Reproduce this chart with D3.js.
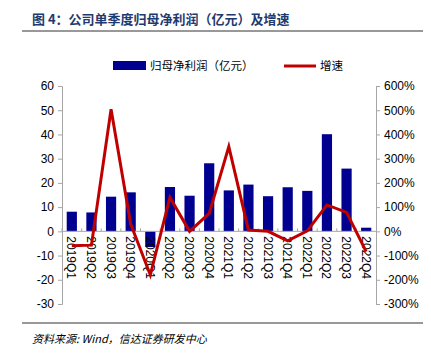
<!DOCTYPE html>
<html><head><meta charset="utf-8">
<script src="https://cdn.jsdelivr.net/npm/d3@7"></script>
<style>
body{margin:0;background:#fff;}
svg{display:block;font-family:"Liberation Sans",Arial,sans-serif;}
</style></head>
<body>
<svg id="c" width="431" height="357"></svg>
<script>
const categories = ["2019Q1","2019Q2","2019Q3","2019Q4","2020Q1","2020Q2","2020Q3","2020Q4","2021Q1","2021Q2","2021Q3","2021Q4","2022Q1","2022Q2","2022Q3","2022Q4"];
const profit = [8.1,7.8,14.3,16.1,-6.5,18.3,14.7,28.1,16.9,19.3,14.5,18.2,16.7,40.1,25.9,1.5];
const growth = [-60,-57,504,30,-180,140,0,74,350,5,0,-39,2,109,78,-84];
const leftTicks = [60,50,40,30,20,10,0,-10,-20,-30];
const rightTicks = [600,500,400,300,200,100,0,-100,-200,-300];

const svg = d3.select("#c");
const L = 62, R = 376, T = 86, B = 304;
const x = d3.scaleBand().domain(categories).range([L,R]).paddingInner(0.48).paddingOuter(0.24);
const xb = d3.scaleBand().domain(categories).range([L,R]);
const yL = d3.scaleLinear().domain([-30,60]).range([B,T]);
const yR = d3.scaleLinear().domain([-300,600]).range([B,T]);
const axisColor = "#a6a6a6";

// Title
svg.append("text").attr("x",32).attr("y",24)
  .attr("font-family","'Noto Sans CJK SC',sans-serif").attr("font-weight","bold")
  .attr("font-size",13).attr("fill","#1f3a6e")
  .text("图 4：公司单季度归母净利润（亿元）及增速");
svg.append("line").attr("x1",22).attr("x2",423).attr("y1",31).attr("y2",31).attr("stroke","#333").attr("stroke-width",1);

// Legend
svg.append("rect").attr("x",113).attr("y",61).attr("width",33).attr("height",9).attr("fill","#000090");
svg.append("text").attr("x",150).attr("y",70).attr("font-family","'Noto Sans CJK SC',sans-serif").attr("font-size",11.5).attr("fill","#000").text("归母净利润（亿元）");
svg.append("line").attr("x1",284).attr("x2",316).attr("y1",66).attr("y2",66).attr("stroke","#c00000").attr("stroke-width",3);
svg.append("text").attr("x",320).attr("y",70).attr("font-family","'Noto Sans CJK SC',sans-serif").attr("font-size",11.5).attr("fill","#000").text("增速");

// Bars
svg.append("g").selectAll("rect").data(categories).join("rect")
  .attr("x",d=>x(d)).attr("width",x.bandwidth())
  .attr("y",(d,i)=>yL(Math.max(0,profit[i])))
  .attr("height",(d,i)=>Math.abs(yL(profit[i])-yL(0)))
  .attr("fill","#000090");

// Axes
const gL = svg.append("g").attr("transform",`translate(${L},0)`)
  .call(d3.axisLeft(yL).tickValues(leftTicks).tickSize(4).tickPadding(4).tickFormat(d=>String(d)));
const gR = svg.append("g").attr("transform",`translate(${R},0)`)
  .call(d3.axisRight(yR).tickValues(rightTicks).tickSize(4).tickPadding(4).tickFormat(d=>String(d)+"%"));
[gL,gR].forEach(g=>{
  g.selectAll("path,line").attr("stroke",axisColor);
  g.selectAll("text").attr("font-size",12).attr("fill","#000");
});

// zero line with category boundary ticks
const gx = svg.append("g");
gx.append("line").attr("x1",L).attr("x2",R).attr("y1",yL(0)).attr("y2",yL(0)).attr("stroke",axisColor);
gx.selectAll("line.tk").data(categories).join("line").attr("class","tk")
  .attr("x1",d=>xb(d)).attr("x2",d=>xb(d)).attr("y1",yL(0)).attr("y2",yL(0)-3).attr("stroke",axisColor);
gx.selectAll("text").data(categories).join("text")
  .attr("transform",d=>`translate(${x(d)+x.bandwidth()/2-4.5},${yL(0)+5}) rotate(90)`)
  .attr("font-size",12).attr("fill","#000").text(d=>d);

// Growth line
const line = d3.line().x((d,i)=>x(categories[i])+x.bandwidth()/2).y(d=>yR(d));
svg.append("path").datum(growth).attr("d",line).attr("fill","none")
  .attr("stroke","#c00000").attr("stroke-width",3).attr("stroke-linejoin","miter");

// Footer
svg.append("line").attr("x1",22).attr("x2",423).attr("y1",323).attr("y2",323).attr("stroke","#333").attr("stroke-width",1);
svg.append("text").attr("x",32).attr("y",343).attr("font-size",11).attr("font-style","italic")
  .attr("font-family","'Noto Sans CJK SC',sans-serif").attr("fill","#000")
  .text("资料来源: Wind，信达证券研发中心");
</script>
</body></html>
